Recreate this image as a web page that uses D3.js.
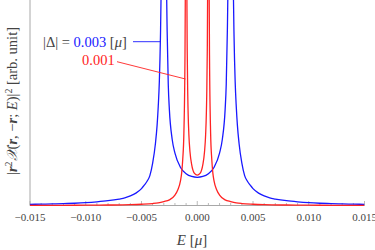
<!DOCTYPE html>
<meta charset="utf-8">
<script src="https://cdn.jsdelivr.net/npm/d3@7"></script>
<style>
 body { margin: 0; background: #fff; }
 text { font-family: "Liberation Serif", "DejaVu Serif", serif; }
</style>
<div id="container"></div>
<script>
 // energies in units of mu, values in arb. unit
 var eBlue = [-0.015, -0.014, -0.013, -0.012, -0.011, -0.010, -0.009, -0.008, -0.007, -0.0065, -0.006, -0.0055,
              -0.005, -0.00475, -0.0045, -0.00425, -0.004, -0.00375, -0.0036, -0.0035, -0.0034, -0.0033, -0.00325,
              -0.00315, -0.003, -0.00285, -0.00275, -0.0027, -0.0026, -0.0025, -0.00225, -0.002, -0.0015, -0.001, -0.0005,
              0,
              0.0005, 0.001, 0.0015, 0.002, 0.00225, 0.0025, 0.0026, 0.0027, 0.00275, 0.00285, 0.003, 0.00315,
              0.00325, 0.0033, 0.0034, 0.0035, 0.0036, 0.00375, 0.004, 0.00425, 0.0045, 0.00475, 0.005,
              0.0055, 0.006, 0.0065, 0.007, 0.008, 0.009, 0.010, 0.011, 0.012, 0.013, 0.014, 0.015];
 var yBlue = [0.042, 0.048, 0.056, 0.067, 0.08, 0.10, 0.13, 0.17, 0.23, 0.27, 0.34, 0.44,
              0.60, 0.72, 0.86, 1.06, 1.5, 2.2, 2.85, 3.5, 4.4, 6.0, 7.3,
              14, 40, 14, 7.6, 6.2, 4.3, 3.4, 2.35, 1.86, 1.35, 1.13, 1.03,
              1.00,
              1.03, 1.13, 1.35, 1.86, 2.35, 3.4, 4.3, 6.2, 7.6, 14, 40, 14,
              7.3, 6.0, 4.4, 3.5, 2.85, 2.2, 1.5, 1.06, 0.86, 0.72, 0.60,
              0.44, 0.34, 0.27, 0.23, 0.17, 0.13, 0.10, 0.08, 0.067, 0.056, 0.048, 0.042];

 var eRed = [-0.015, -0.012, -0.010, -0.008, -0.006, -0.005, -0.004, -0.0035, -0.003, -0.0025, -0.002, -0.00175,
             -0.0015, -0.0014, -0.0013, -0.0012, -0.0011, -0.00107, -0.00104, -0.001, -0.00096, -0.00093, -0.0009,
             -0.00085, -0.00075, -0.00065, -0.0005, -0.00025,
             0,
             0.00025, 0.0005, 0.00065, 0.00075, 0.00085, 0.0009, 0.00093, 0.00096, 0.001, 0.00104, 0.00107, 0.0011,
             0.0012, 0.0013, 0.0014, 0.0015, 0.00175, 0.002, 0.0025, 0.003, 0.0035, 0.004, 0.005, 0.006,
             0.008, 0.010, 0.012, 0.015];
 var yRed = [0.005, 0.0075, 0.011, 0.017, 0.03, 0.045, 0.07, 0.095, 0.14, 0.2, 0.37, 0.55,
             0.88, 1.15, 1.65, 2.55, 5.3, 7.5, 12, 40, 12, 7.5, 5.5,
             3.9, 2.5, 1.9, 1.45, 1.14,
             1.08,
             1.14, 1.45, 1.9, 2.5, 3.9, 5.5, 7.5, 12, 40, 12, 7.5, 5.3,
             2.55, 1.65, 1.15, 0.88, 0.55, 0.37, 0.2, 0.14, 0.095, 0.07, 0.045, 0.03,
             0.017, 0.011, 0.0075, 0.005];

 var majorTicks = [-0.015, -0.010, -0.005, 0, 0.005, 0.010, 0.015];
 var tickLabels = ["\u22120.015", "\u22120.010", "\u22120.005", "0.000", "0.005", "0.010", "0.015"];

 var width = 375, height = 250;
 var left = 30, right = 364.5, bottom = 205.5;
 var blue = "rgb(25,25,255)", red = "rgb(255,35,35)", axisGray = "#a8a8a8", textGray = "#444";

 var x = d3.scaleLinear().domain([-0.015, 0.015]).range([left, right]);
 var y = d3.scaleLinear().domain([0, 7.29]).range([bottom, 0]);

 var svg = d3.select("#container").append("svg")
             .attr("width", width)
             .attr("height", height);

 svg.append("clipPath").attr("id", "plotclip")
    .append("rect")
    .attr("x", left).attr("y", 0)
    .attr("width", right - left).attr("height", height);

 // axes
 svg.append("line")
    .attr("x1", left).attr("x2", left)
    .attr("y1", 0).attr("y2", bottom)
    .attr("stroke", axisGray).attr("stroke-width", 1);
 svg.append("line")
    .attr("x1", left).attr("x2", right)
    .attr("y1", bottom).attr("y2", bottom)
    .attr("stroke", axisGray).attr("stroke-width", 1);

 var minorTicks = d3.range(-15, 16).map(d => d / 1000);
 svg.selectAll("line.minor")
    .data(minorTicks)
    .enter().append("line")
    .attr("class", "minor")
    .attr("x1", d => x(d)).attr("x2", d => x(d))
    .attr("y1", bottom).attr("y2", d => majorTicks.some(m => Math.abs(m - d) < 1e-9) ? bottom - 4.5 : bottom - 2.5)
    .attr("stroke", axisGray).attr("stroke-width", 0.8);

 svg.selectAll("text.tick")
    .data(majorTicks)
    .enter().append("text")
    .attr("class", "tick")
    .attr("x", d => x(d))
    .attr("y", 221)
    .attr("text-anchor", "middle")
    .attr("font-size", 11)
    .attr("fill", textGray)
    .text((d, i) => tickLabels[i]);

 // curves
 var line = d3.line()
              .x(d => x(d[0]))
              .y(d => y(d[1]))
              .curve(d3.curveMonotoneX);

 var plot = svg.append("g").attr("clip-path", "url(#plotclip)");
 plot.append("path")
     .datum(d3.zip(eBlue, yBlue))
     .attr("d", line)
     .attr("fill", "none")
     .attr("stroke", blue)
     .attr("stroke-width", 1.3);
 plot.append("path")
     .datum(d3.zip(eRed, yRed))
     .attr("d", line)
     .attr("fill", "none")
     .attr("stroke", red)
     .attr("stroke-width", 1.3);

 // labels for the two curves
 var lab1 = svg.append("text")
               .attr("x", 43).attr("y", 46.5)
               .attr("font-size", 14.5)
               .attr("fill", textGray);
 lab1.append("tspan").text("|\u0394| = ");
 lab1.append("tspan").attr("fill", blue).text("0.003");
 lab1.append("tspan").text(" [");
 lab1.append("tspan").attr("font-style", "italic").text("\u03bc");
 lab1.append("tspan").text("]");
 svg.append("line")
    .attr("x1", 133).attr("x2", 160)
    .attr("y1", 41.7).attr("y2", 41.7)
    .attr("stroke", blue).attr("stroke-width", 0.9);

 svg.append("text")
    .attr("x", 82).attr("y", 65)
    .attr("font-size", 14.5)
    .attr("fill", red)
    .text("0.001");
 svg.append("line")
    .attr("x1", 117).attr("y1", 61.7)
    .attr("x2", 185.5).attr("y2", 79)
    .attr("stroke", red).attr("stroke-width", 0.9);

 // axis titles
 var xt = svg.append("text")
             .attr("x", 192).attr("y", 245)
             .attr("text-anchor", "middle")
             .attr("font-size", 15)
             .attr("fill", textGray);
 xt.append("tspan").attr("font-style", "italic").text("E");
 xt.append("tspan").text(" [");
 xt.append("tspan").attr("font-style", "italic").text("\u03bc");
 xt.append("tspan").text("]");

 var yt = svg.append("text")
             .attr("transform", "translate(17,101) rotate(-90)")
             .attr("text-anchor", "middle")
             .attr("font-size", 14.5)
             .attr("fill", textGray);
 yt.append("tspan").text("|");
 yt.append("tspan").attr("font-weight", "bold").attr("font-style", "italic").text("r");
 yt.append("tspan").attr("font-size", 10).attr("dy", -5).text("2");
 yt.append("tspan").attr("dy", 5).attr("font-style", "italic").text("\ud835\udcb3");
 yt.append("tspan").text("(");
 yt.append("tspan").attr("font-weight", "bold").attr("font-style", "italic").text("r");
 yt.append("tspan").text(", \u2212");
 yt.append("tspan").attr("font-weight", "bold").attr("font-style", "italic").text("r");
 yt.append("tspan").text("; ");
 yt.append("tspan").attr("font-style", "italic").text("E");
 yt.append("tspan").text(")|");
 yt.append("tspan").attr("font-size", 10).attr("dy", -5).text("2");
 yt.append("tspan").attr("dy", 5).text(" [arb. unit]");
</script>
